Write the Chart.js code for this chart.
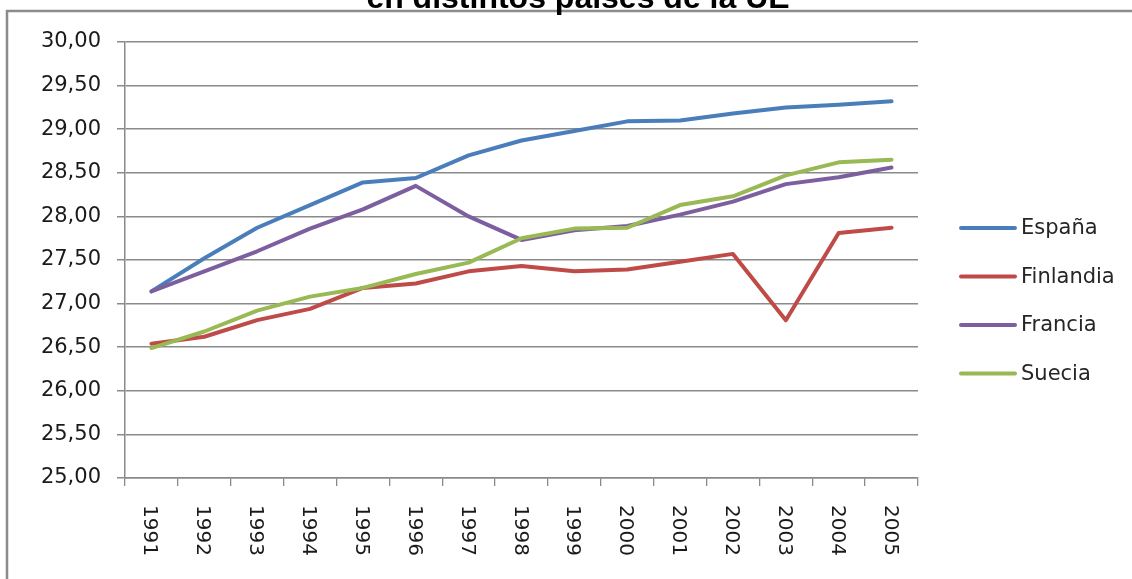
<!DOCTYPE html>
<html>
<head>
<meta charset="utf-8">
<script src="https://cdn.jsdelivr.net/npm/chart.js@4"></script>
<style>
  html, body { margin: 0; padding: 0; background: #fff; overflow: hidden; }
  canvas { display: block; }
</style>
</head>
<body>
<canvas id="chart" width="1132" height="579"></canvas>
<script>
const years = ['1991', '1992', '1993', '1994', '1995', '1996', '1997', '1998', '1999', '2000', '2001', '2002', '2003', '2004', '2005'];
const seriesNames = ['España', 'Finlandia', 'Francia', 'Suecia'];
const espana = [27.14, 27.52, 27.87, 28.13, 28.39, 28.44, 28.70, 28.87, 28.98, 29.09, 29.10, 29.18, 29.25, 29.28, 29.32];
const finlandia = [26.54, 26.62, 26.81, 26.94, 27.18, 27.23, 27.37, 27.43, 27.37, 27.39, 27.48, 27.57, 26.81, 27.81, 27.87];
const francia = [27.14, 27.37, 27.60, 27.86, 28.08, 28.35, 28.00, 27.73, 27.84, 27.89, 28.02, 28.17, 28.37, 28.45, 28.56];
const suecia = [26.49, 26.68, 26.92, 27.08, 27.18, 27.34, 27.47, 27.75, 27.86, 27.87, 28.13, 28.23, 28.47, 28.62, 28.65];
const colors = ['#4a7ebb', '#be4b48', '#7d5fa0', '#98b954'];
const titleText = 'en distintos países de la UE';

const gridColor = '#8a8a8a';
const font = '"DejaVu Sans", Verdana, sans-serif';

// frame, title, rotated year labels and legend
const extras = {
  id: 'extras',
  beforeDraw(chart) {
    const ctx = chart.ctx;
    ctx.save();
    ctx.strokeStyle = '#8c8c8c';
    ctx.lineWidth = 2.5;
    ctx.beginPath();
    ctx.moveTo(7, 579);
    ctx.lineTo(7, 11);
    ctx.lineTo(1132, 11);
    ctx.stroke();
    ctx.restore();
  },
  afterDraw(chart) {
    const ctx = chart.ctx;
    const x = chart.scales.x;
    ctx.save();
    ctx.fillStyle = '#000';
    ctx.font = 'bold 32px "Liberation Sans", Arial, sans-serif';
    ctx.textAlign = 'center';
    ctx.textBaseline = 'alphabetic';
    ctx.fillText(titleText, 578, 8);

    ctx.font = '20px ' + font;
    ctx.fillStyle = '#1a1a1a';
    ctx.textAlign = 'left';
    years.forEach((y, i) => {
      ctx.save();
      ctx.translate(x.getPixelForValue(i), 505);
      ctx.rotate(Math.PI / 2);
      ctx.fillText(y, 0, 7);
      ctx.restore();
    });

    ctx.font = '21px ' + font;
    ctx.textBaseline = 'middle';
    chart.data.datasets.forEach((ds, i) => {
      const ly = 228 + i * 48.5;
      ctx.strokeStyle = ds.borderColor;
      ctx.lineWidth = 4;
      ctx.lineCap = 'round';
      ctx.beginPath();
      ctx.moveTo(961, ly);
      ctx.lineTo(1015, ly);
      ctx.stroke();
      ctx.fillStyle = '#262626';
      ctx.fillText(ds.label, 1021, ly + 1);
    });
    ctx.restore();
  }
};

const allSeries = [espana, finlandia, francia, suecia];

new Chart(document.getElementById('chart'), {
  type: 'line',
  data: {
    labels: years,
    datasets: allSeries.map((d, i) => ({
      label: seriesNames[i],
      data: d,
      borderColor: colors[i],
      backgroundColor: colors[i],
      borderWidth: 4,
      pointRadius: 0,
      tension: 0,
      borderCapStyle: 'round',
      borderJoinStyle: 'round',
      order: 3 - i
    }))
  },
  options: {
    responsive: false,
    devicePixelRatio: 1,
    animation: false,
    layout: { padding: { top: 42, right: 214, bottom: 0, left: 0 } },
    plugins: {
      legend: { display: false },
      tooltip: { enabled: false }
    },
    scales: {
      x: {
        type: 'category',
        offset: true,
        grid: { offset: true, drawOnChartArea: false, drawTicks: true, tickLength: 8, color: gridColor, lineWidth: 1.3 },
        border: { color: gridColor, width: 1.5 },
        ticks: { display: false },
        afterFit(scale) { scale.height = 101; }
      },
      y: {
        min: 25,
        max: 30,
        grid: { color: gridColor, lineWidth: 1.5, tickLength: 8 },
        border: { color: gridColor, width: 1.5 },
        ticks: {
          stepSize: 0.5,
          padding: 16,
          color: '#1a1a1a',
          font: { family: font, size: 21 },
          callback: v => v.toFixed(2).replace('.', ',')
        },
        afterFit(scale) { scale.width = 125; }
      }
    }
  },
  plugins: [extras]
});
</script>
</body>
</html>
